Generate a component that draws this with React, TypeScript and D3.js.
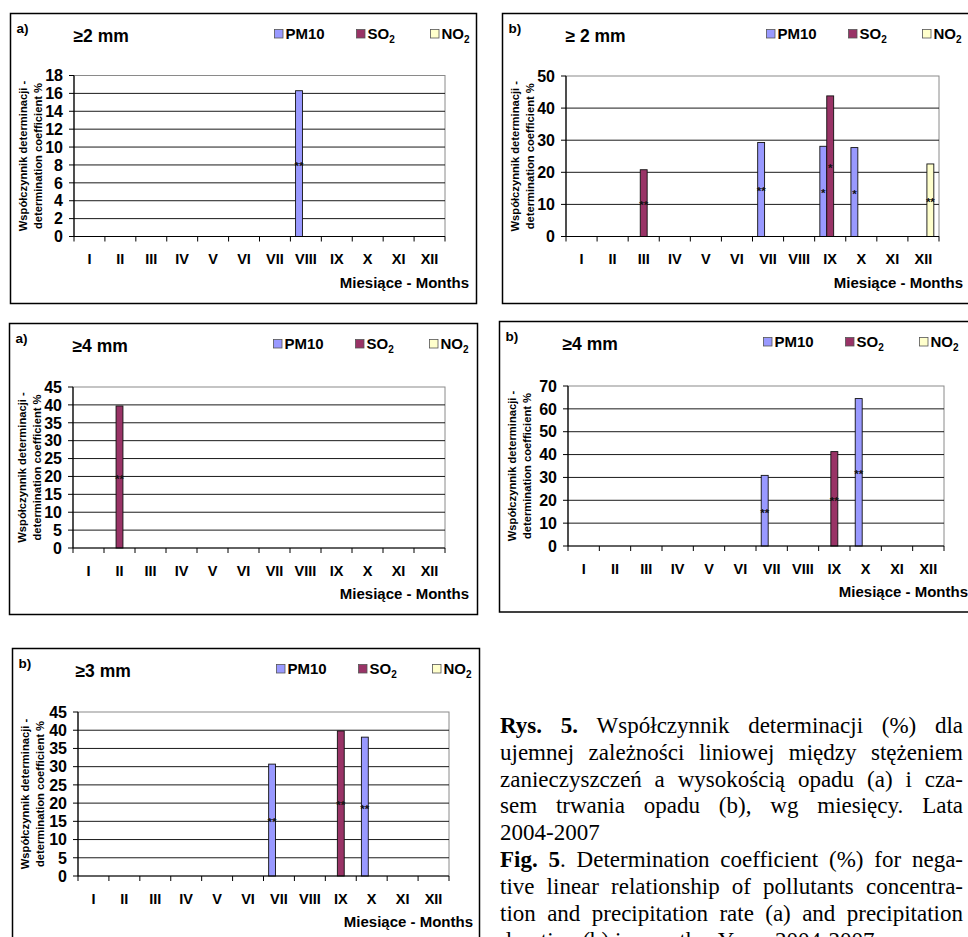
import React, { useMemo } from "react";
import * as d3 from "d3";

// ---------- DATA ----------
const months = ["I", "II", "III", "IV", "V", "VI", "VII", "VIII", "IX", "X", "XI", "XII"];
const seriesKeys = ["PM10", "SO2", "NO2"];
const seriesColors = ["#9999FF", "#993366", "#FFFFCC"];

// a) ≥2 mm
const a2PM10 = [null, null, null, null, null, null, null, 16.3, null, null, null, null];
const a2SO2 = [null, null, null, null, null, null, null, null, null, null, null, null];
const a2NO2 = [null, null, null, null, null, null, null, null, null, null, null, null];
const a2PM10Sig = ["", "", "", "", "", "", "", "**", "", "", "", ""];
const a2SO2Sig = ["", "", "", "", "", "", "", "", "", "", "", ""];
const a2NO2Sig = ["", "", "", "", "", "", "", "", "", "", "", ""];
const a2Ticks = [0, 2, 4, 6, 8, 10, 12, 14, 16, 18];

// b) ≥2 mm
const b2PM10 = [null, null, null, null, null, null, 29.3, null, 28.1, 27.7, null, null];
const b2SO2 = [null, null, 20.8, null, null, null, null, null, 43.8, null, null, null];
const b2NO2 = [null, null, null, null, null, null, null, null, null, null, null, 22.6];
const b2PM10Sig = ["", "", "", "", "", "", "**", "", "*", "*", "", ""];
const b2SO2Sig = ["", "", "**", "", "", "", "", "", "*", "", "", ""];
const b2NO2Sig = ["", "", "", "", "", "", "", "", "", "", "", "**"];
const b2Ticks = [0, 10, 20, 30, 40, 50];

// a) ≥4 mm
const a4PM10 = [null, null, null, null, null, null, null, null, null, null, null, null];
const a4SO2 = [null, 39.7, null, null, null, null, null, null, null, null, null, null];
const a4NO2 = [null, null, null, null, null, null, null, null, null, null, null, null];
const a4PM10Sig = ["", "", "", "", "", "", "", "", "", "", "", ""];
const a4SO2Sig = ["", "**", "", "", "", "", "", "", "", "", "", ""];
const a4NO2Sig = ["", "", "", "", "", "", "", "", "", "", "", ""];
const a4Ticks = [0, 5, 10, 15, 20, 25, 30, 35, 40, 45];

// b) ≥4 mm
const b4PM10 = [null, null, null, null, null, null, 30.9, null, null, 64.5, null, null];
const b4SO2 = [null, null, null, null, null, null, null, null, 41.3, null, null, null];
const b4NO2 = [null, null, null, null, null, null, null, null, null, null, null, null];
const b4PM10Sig = ["", "", "", "", "", "", "**", "", "", "**", "", ""];
const b4SO2Sig = ["", "", "", "", "", "", "", "", "**", "", "", ""];
const b4NO2Sig = ["", "", "", "", "", "", "", "", "", "", "", ""];
const b4Ticks = [0, 10, 20, 30, 40, 50, 60, 70];

// b) ≥3 mm
const b3PM10 = [null, null, null, null, null, null, 30.7, null, null, 38.1, null, null];
const b3SO2 = [null, null, null, null, null, null, null, null, 39.8, null, null, null];
const b3NO2 = [null, null, null, null, null, null, null, null, null, null, null, null];
const b3PM10Sig = ["", "", "", "", "", "", "**", "", "", "**", "", ""];
const b3SO2Sig = ["", "", "", "", "", "", "", "", "**", "", "", ""];
const b3NO2Sig = ["", "", "", "", "", "", "", "", "", "", "", ""];
const b3Ticks = [0, 5, 10, 15, 20, 25, 30, 35, 40, 45];

// caption lines: each word is a list of [text, bold]
const plain = (s: string) => s.split(" ").map((w) => [[w, false]] as [string, boolean][]);
const captionLines: { words: [string, boolean][][]; justify: boolean; gapBefore?: boolean }[] = [
  { words: [[["Rys.", true]], [["5.", true]], [["Współczynnik", false]], [["determinacji", false]], [["(%)", false]], [["dla", false]]], justify: true },
  { words: plain("ujemnej zależności liniowej między stężeniem"), justify: true },
  { words: plain("zanieczyszczeń a wysokością opadu (a) i cza-"), justify: true },
  { words: plain("sem trwania opadu (b), wg miesięcy. Lata"), justify: true },
  { words: [[["2004-2007", false]]], justify: false },
  { words: [[["Fig.", true]], [["5", true], [".", false]], [["Determination", false]], [["coefficient", false]], [["(%)", false]], [["for", false]], [["nega-", false]]], justify: true, gapBefore: true },
  { words: plain("tive linear relationship of pollutants concentra-"), justify: true },
  { words: plain("tion and precipitation rate (a) and precipitation"), justify: true },
  { words: plain("duration (b) in months. Years 2004-2007"), justify: false },
];

// ---------- LAYOUT ----------
type PanelCfg = {
  box: [number, number, number, number];
  plot: [number, number, number, number];
  tag: string;
  title: string;
  ticks: number[];
  values: (number | null)[][];
  sigs: string[][];
};

const panels: PanelCfg[] = [
  { box: [10.5, 13.5, 466, 290], plot: [74, 445, 75.5, 236.5], tag: "a)", title: "≥2 mm", ticks: a2Ticks, values: [a2PM10, a2SO2, a2NO2], sigs: [a2PM10Sig, a2SO2Sig, a2NO2Sig] },
  { box: [502.5, 13.5, 480, 290], plot: [566, 939, 76, 236.5], tag: "b)", title: "≥ 2 mm", ticks: b2Ticks, values: [b2PM10, b2SO2, b2NO2], sigs: [b2PM10Sig, b2SO2Sig, b2NO2Sig] },
  { box: [9.5, 323.5, 468, 291], plot: [73, 445, 387, 548], tag: "a)", title: "≥4 mm", ticks: a4Ticks, values: [a4PM10, a4SO2, a4NO2], sigs: [a4PM10Sig, a4SO2Sig, a4NO2Sig] },
  { box: [499.5, 321.5, 480, 290.5], plot: [568, 944, 386, 546], tag: "b)", title: "≥4 mm", ticks: b4Ticks, values: [b4PM10, b4SO2, b4NO2], sigs: [b4PM10Sig, b4SO2Sig, b4NO2Sig] },
  { box: [12.5, 648.5, 467, 300], plot: [78, 449, 712, 876], tag: "b)", title: "≥3 mm", ticks: b3Ticks, values: [b3PM10, b3SO2, b3NO2], sigs: [b3PM10Sig, b3SO2Sig, b3NO2Sig] },
];

const SANS = '"Liberation Sans", Arial, sans-serif';
const SERIF = '"Liberation Serif", "Times New Roman", serif';
const CAP_SIZE = 23;

function Panel({ cfg }: { cfg: PanelCfg }) {
  const [bx, by, bw, bh] = cfg.box;
  const [x0, x1, y0, y1] = cfg.plot;
  const yMax = d3.max(cfg.ticks) as number;
  const y = d3.scaleLinear().domain([0, yMax]).range([y1, y0]);
  const x = d3.scaleBand<string>().domain(months).range([x0, x1]).paddingInner(0).paddingOuter(0);
  const band = x.bandwidth();
  const barW = band / 4.5;
  const legendOffsets = [264, 346, 420];

  return (
    <g>
      <rect x={bx} y={by} width={bw} height={bh} fill="#fff" stroke="#000" strokeWidth={1.5} />
      <text x={bx + 6} y={by + 19} fontFamily={SANS} fontWeight="bold" fontSize={13.5}>{cfg.tag}</text>
      <text x={bx + 63} y={by + 28.5} fontFamily={SANS} fontWeight="bold" fontSize={17.5}>{cfg.title}</text>
      {seriesKeys.map((k, i) => (
        <g key={k}>
          <rect x={bx + legendOffsets[i]} y={by + 16} width={8.5} height={8.5} fill={seriesColors[i]} stroke="#555" strokeWidth={0.8} />
          <text x={bx + legendOffsets[i] + 11} y={by + 25.5} fontFamily={SANS} fontWeight="bold" fontSize={15}>
            {k === "PM10" ? "PM10" : (
              <>
                {k.slice(0, 2)}
                <tspan fontSize={10} dy={3.5}>2</tspan>
              </>
            )}
          </text>
        </g>
      ))}
      {/* y title */}
      <g transform={`translate(${bx + 16.5},${(y0 + y1) / 2}) rotate(-90)`}>
        <text x={0} y={0} textAnchor="middle" fontFamily={SANS} fontWeight="bold" fontSize={11.2}>Współczynnik determinacji -</text>
        <text x={0} y={14.5} textAnchor="middle" fontFamily={SANS} fontWeight="bold" fontSize={11.2}>determination coefficient %</text>
      </g>
      {/* plot frame */}
      <rect x={x0} y={y0} width={x1 - x0} height={y1 - y0} fill="none" stroke="#8a8a8a" strokeWidth={1} />
      {cfg.ticks.filter((t) => t > 0 && t < yMax).map((t) => (
        <line key={t} x1={x0} x2={x1} y1={y(t)} y2={y(t)} stroke="#1a1a1a" strokeWidth={1} />
      ))}
      {/* bars */}
      {cfg.values.map((vals, si) =>
        vals.map((v, mi) => {
          if (v == null) return null;
          const bxp = (x(months[mi]) as number) + band / 2 + (si - 1.5) * barW;
          return (
            <rect key={`${si}-${mi}`} x={bxp} y={y(v)} width={barW} height={y(0) - y(v)} fill={seriesColors[si]} stroke="#111" strokeWidth={0.9} />
          );
        })
      )}
      {cfg.values.map((vals, si) =>
        vals.map((v, mi) => {
          const s = cfg.sigs[si][mi];
          if (v == null || !s) return null;
          const cx = (x(months[mi]) as number) + band / 2 + (si - 1) * barW;
          return (
            <text key={`s${si}-${mi}`} x={cx} y={y(v / 2) + 6} textAnchor="middle" fontFamily={SANS} fontWeight="bold" fontSize={11.5} fill="#111">{s}</text>
          );
        })
      )}
      {/* axes */}
      <line x1={x0} x2={x0} y1={y0} y2={y1} stroke="#000" strokeWidth={1.2} />
      <line x1={x0} x2={x1} y1={y1} y2={y1} stroke="#000" strokeWidth={1.2} />
      {cfg.ticks.map((t) => (
        <g key={`yt${t}`}>
          <line x1={x0 - 5} x2={x0} y1={y(t)} y2={y(t)} stroke="#000" strokeWidth={1} />
          <text x={x0 - 11} y={y(t)} dy="0.36em" textAnchor="end" fontFamily={SANS} fontWeight="bold" fontSize={16}>{t}</text>
        </g>
      ))}
      {months.map((m) => (
        <line key={`xt${m}`} x1={x(m) as number} x2={x(m) as number} y1={y1} y2={y1 + 5} stroke="#000" strokeWidth={1} />
      ))}
      <line x1={x1} x2={x1} y1={y1} y2={y1 + 5} stroke="#000" strokeWidth={1} />
      {months.map((m) => (
        <text key={`xl${m}`} x={(x(m) as number) + band / 2} y={y1 + 27.5} textAnchor="middle" fontFamily={SANS} fontWeight="bold" fontSize={14.5}>{m}</text>
      ))}
      <text x={x1 + 24} y={y1 + 51} textAnchor="end" fontFamily={SANS} fontWeight="bold" fontSize={15}>Miesiące - Months</text>
    </g>
  );
}

function Caption() {
  const left = 500;
  const right = 963;
  const laid = useMemo(() => {
    const canvas = document.createElement("canvas");
    const ctx = canvas.getContext("2d")!;
    const measure = (t: string, b: boolean) => {
      ctx.font = `${b ? "bold " : ""}${CAP_SIZE}px "Liberation Serif"`;
      return ctx.measureText(t).width;
    };
    const space = measure(" ", false);
    let base = 733;
    return captionLines.map((line, li) => {
      if (li > 0) base += line.gapBefore ? 27 : 26.8;
      const widths = line.words.map((w) => w.reduce((s, [t, b]) => s + measure(t, b), 0));
      const total = widths.reduce((a, b) => a + b, 0);
      const gap = line.justify && line.words.length > 1 ? (right - left - total) / (line.words.length - 1) : space;
      let cx = left;
      const words = line.words.map((w, i) => {
        const pos = cx;
        cx += widths[i] + gap;
        return { runs: w, x: pos };
      });
      return { y: base, words };
    });
  }, []);
  return (
    <g fontFamily={SERIF} fontSize={CAP_SIZE} fill="#000">
      {laid.map((line, li) =>
        line.words.map((w, wi) => (
          <text key={`${li}-${wi}`} x={w.x} y={line.y}>
            {w.runs.map(([t, b], ri) => (
              <tspan key={ri} fontWeight={b ? "bold" : "normal"}>{t}</tspan>
            ))}
          </text>
        ))
      )}
    </g>
  );
}

export default function App() {
  return (
    <svg width={968} height={937} style={{ position: "absolute", left: 0, top: 0, background: "#fff" }}>
      <rect x={0} y={0} width={968} height={937} fill="#fff" />
      {panels.map((p, i) => (
        <Panel key={i} cfg={p} />
      ))}
      <Caption />
    </svg>
  );
}
